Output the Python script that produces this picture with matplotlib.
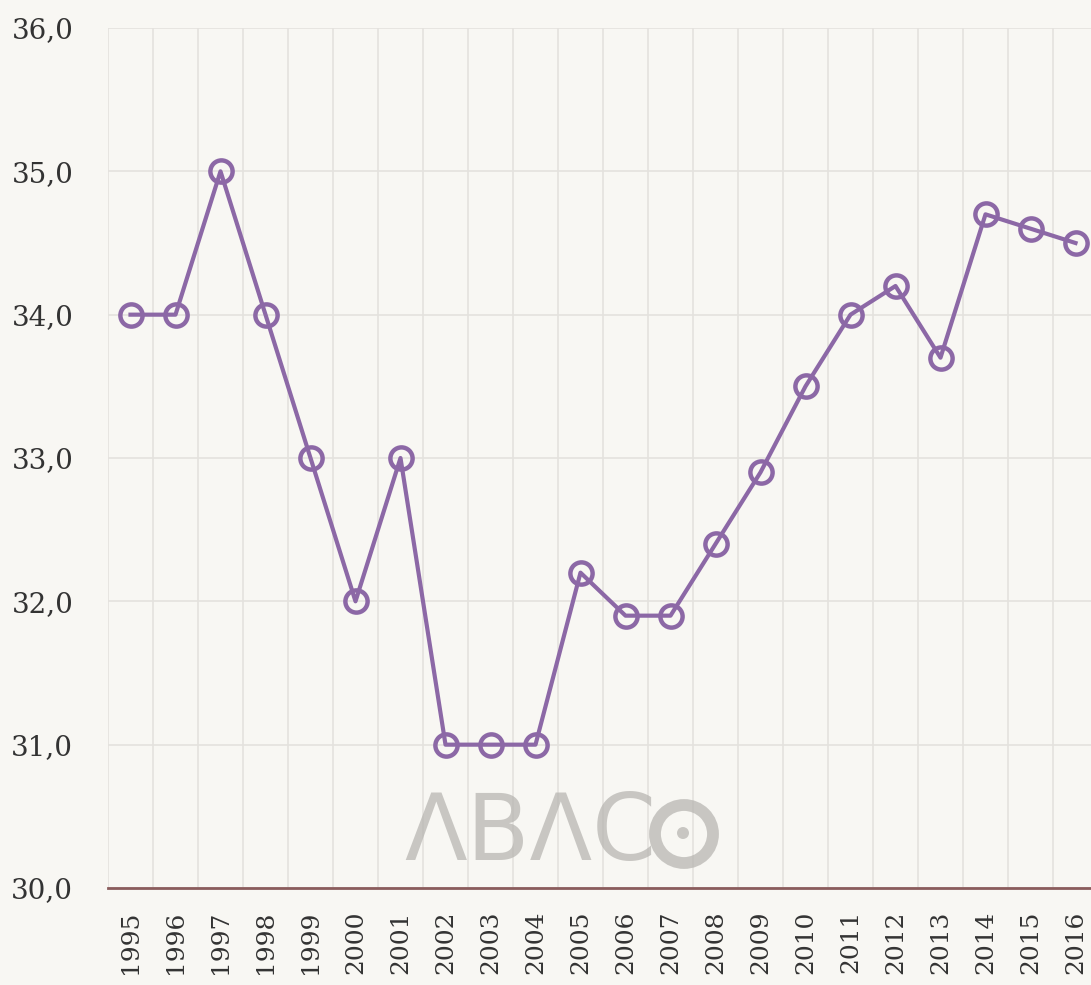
import matplotlib
matplotlib.use("Agg")
import matplotlib.pyplot as plt
from matplotlib.patches import Circle
import numpy as np

years = [str(y) for y in range(1995, 2017)]
values = [34.0, 34.0, 35.0, 34.0, 33.0, 32.0, 33.0, 31.0, 31.0, 31.0, 32.2,
          31.9, 31.9, 32.4, 32.9, 33.5, 34.0, 34.2, 33.7, 34.7, 34.6, 34.5]
yticks = [30, 31, 32, 33, 34, 35, 36]
ytick_labels = ["30,0", "31,0", "32,0", "33,0", "34,0", "35,0", "36,0"]

W, H = 1091, 985
bg = "#f8f7f3"
fig = plt.figure(figsize=(W / 100, H / 100), dpi=100, facecolor=bg)
ax = fig.add_axes([108 / W, 1 - 888 / H, 990 / W, (888 - 28) / H])
ax.set_facecolor(bg)

x = np.arange(len(years))
ax.set_xlim(-0.5, len(years) - 0.5)
ax.set_ylim(30, 36)

# grid
for b in np.arange(-0.5, len(years), 1.0):
    ax.axvline(b, color="#e4e2de", lw=1.2, zorder=2)
for yv in yticks:
    ax.axhline(yv, color="#e4e2de", lw=1.2, zorder=0)

# watermark
wm_color = "#b4b2ae"
wm_alpha = 0.7
fig.text(404 / W, 1 - 834 / H, "ΛBΛC", fontsize=66, color=wm_color, alpha=wm_alpha,
         ha="left", va="center", family="DejaVu Sans", zorder=1)
ring = Circle((684, H - 834), 29, transform=None, fill=False,
              edgecolor=wm_color, lw=8.5, alpha=wm_alpha, zorder=1)
fig.add_artist(ring)
dot = Circle((683, H - 833), 6, transform=None, facecolor=wm_color,
             edgecolor="none", alpha=wm_alpha, zorder=1)
fig.add_artist(dot)

ax.plot(x, values, color="#8c68a6", lw=3, marker="o", markersize=16,
        markerfacecolor="none", markeredgewidth=3.2, markeredgecolor="#8c68a6",
        zorder=3, clip_on=False)

for s in ["top", "right", "left"]:
    ax.spines[s].set_visible(False)
ax.spines["bottom"].set_color("#8a5c5c")
ax.spines["bottom"].set_linewidth(2)
ax.spines["bottom"].set_zorder(4)

ax.set_xticks(x)
ax.set_xticklabels(years, rotation=90, fontsize=18, family="DejaVu Serif",
                   color="#333333")
ax.set_yticks(yticks)
ax.set_yticklabels(ytick_labels, fontsize=20, family="DejaVu Serif",
                   color="#333333")
ax.tick_params(axis="both", length=0)
ax.tick_params(axis="x", pad=16)
ax.tick_params(axis="y", pad=25)

fig.savefig("out.png", dpi=100, facecolor=bg)
